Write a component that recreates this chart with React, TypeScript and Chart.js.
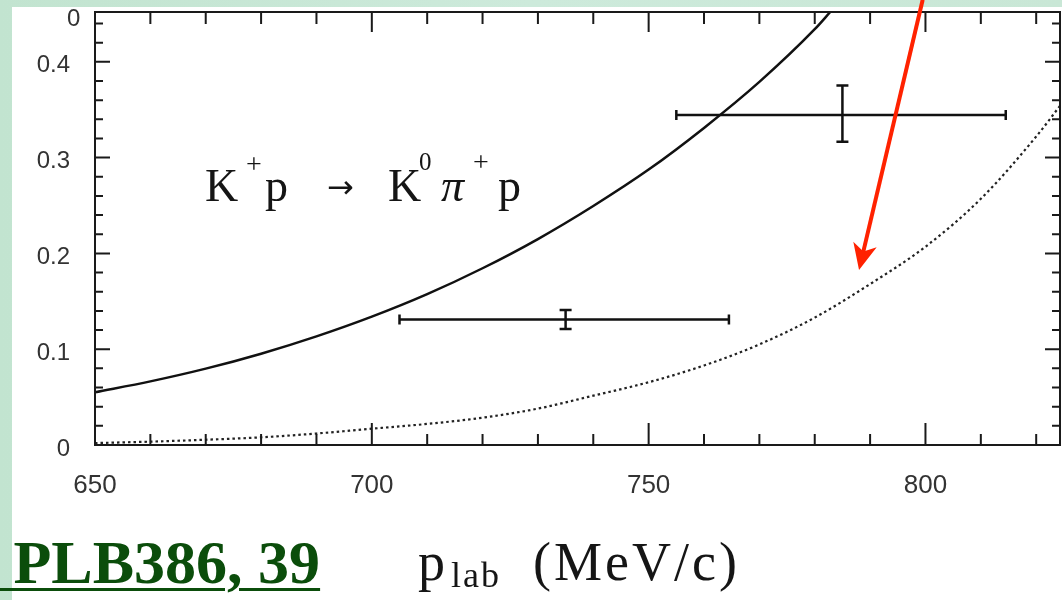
import React, { useEffect, useRef } from "react";
import { Chart, registerables } from "chart.js";

Chart.register(...registerables);

// ---- axis extents ----
const X_MIN = 650;
const X_MAX = 824.3;
const Y_MIN = 0;
const Y_MAX = 0.452;

// ---- tick values ----
const xLabelTicks = [650, 700, 750, 800];
const yLabelTicks = [0, 0.1, 0.2, 0.3, 0.4];
const xMinorTicks = [650, 660, 670, 680, 690, 700, 710, 720, 730, 740, 750, 760, 770, 780, 790, 800, 810, 820];
const yMinorTicks = [0, 0.02, 0.04, 0.06, 0.08, 0.1, 0.12, 0.14, 0.16, 0.18, 0.2, 0.22, 0.24, 0.26, 0.28, 0.3, 0.32, 0.34, 0.36, 0.38, 0.4, 0.42, 0.44];

// ---- solid curve ----
const solidX = [650, 660, 670, 680, 690, 700, 710, 720, 730, 740, 750, 760, 770, 780, 782.8];
const solidY = [0.055, 0.0664, 0.0797, 0.0953, 0.1134, 0.134, 0.1575, 0.1845, 0.215, 0.2495, 0.2875, 0.331, 0.379, 0.434, 0.452];

// ---- dotted curve ----
const dotX = [650, 660, 670, 680, 690, 700, 710, 720, 730, 740, 750, 760, 770, 780, 790, 800, 810, 820, 824.3];
const dotY = [0.002, 0.0035, 0.0055, 0.008, 0.012, 0.017, 0.022, 0.0285, 0.038, 0.0515, 0.0655, 0.083, 0.105, 0.133, 0.168, 0.207, 0.257, 0.322, 0.354];

// ---- data points with error bars ----
const errX = [735, 785];
const errY = [0.131, 0.3445];
const errXLo = [705, 755];
const errXHi = [764.5, 814.5];
const errYLo = [0.121, 0.3166];
const errYHi = [0.141, 0.3753];

// ---- red annotation arrow (data units) ----
const arrowTail = [799.5, 0.4648];
const arrowTip = [788.0, 0.1828];

const decorPlugin = {
  id: "decor",
  afterDatasetsDraw(chart: any) {
    const { ctx, chartArea: a, scales } = chart;
    const x = scales.x;
    const y = scales.y;
    ctx.save();

    // error bars
    ctx.strokeStyle = "#111";
    ctx.lineWidth = 2.5;
    ctx.lineCap = "butt";
    for (let i = 0; i < errX.length; i++) {
      const cx = x.getPixelForValue(errX[i]);
      const cy = y.getPixelForValue(errY[i]);
      const xl = x.getPixelForValue(errXLo[i]);
      const xh = x.getPixelForValue(errXHi[i]);
      const yl = y.getPixelForValue(errYLo[i]);
      const yh = y.getPixelForValue(errYHi[i]);
      ctx.beginPath();
      ctx.moveTo(xl, cy);
      ctx.lineTo(xh, cy);
      ctx.moveTo(xl, cy - 5);
      ctx.lineTo(xl, cy + 5);
      ctx.moveTo(xh, cy - 5);
      ctx.lineTo(xh, cy + 5);
      ctx.moveTo(cx, yl);
      ctx.lineTo(cx, yh);
      ctx.moveTo(cx - 6, yl);
      ctx.lineTo(cx + 6, yl);
      ctx.moveTo(cx - 6, yh);
      ctx.lineTo(cx + 6, yh);
      ctx.stroke();
    }

    // frame
    ctx.strokeStyle = "#1a1a1a";
    ctx.lineWidth = 2;
    ctx.strokeRect(a.left, a.top, a.right - a.left, a.bottom - a.top);

    // x ticks (inward, bottom and top)
    ctx.lineWidth = 2;
    ctx.beginPath();
    for (const v of xMinorTicks) {
      const px = x.getPixelForValue(v);
      const major = xLabelTicks.includes(v);
      ctx.moveTo(px, a.bottom);
      ctx.lineTo(px, a.bottom - (major ? 22 : 11));
      ctx.moveTo(px, a.top);
      ctx.lineTo(px, a.top + (major ? 20 : 12));
    }
    // y ticks (inward, left and right)
    for (const v of yMinorTicks) {
      const py = y.getPixelForValue(v);
      const major = Math.abs(v * 10 - Math.round(v * 10)) < 1e-6;
      ctx.moveTo(a.left, py);
      ctx.lineTo(a.left + (major ? 15 : 8), py);
      ctx.moveTo(a.right, py);
      ctx.lineTo(a.right - (major ? 15 : 8), py);
    }
    ctx.stroke();

    // red arrow
    const ax0 = x.getPixelForValue(arrowTail[0]);
    const ay0 = y.getPixelForValue(arrowTail[1]);
    const ax1 = x.getPixelForValue(arrowTip[0]);
    const ay1 = y.getPixelForValue(arrowTip[1]);
    const dx = ax1 - ax0;
    const dy = ay1 - ay0;
    const len = Math.hypot(dx, dy);
    const ux = dx / len;
    const uy = dy / len;
    const headLen = 26;
    const headW = 12;
    const bx = ax1 - ux * headLen;
    const by = ay1 - uy * headLen;
    ctx.strokeStyle = "#ff2200";
    ctx.fillStyle = "#ff2200";
    ctx.lineWidth = 4;
    ctx.beginPath();
    ctx.moveTo(ax0, ay0);
    ctx.lineTo(bx + ux * 8, by + uy * 8);
    ctx.stroke();
    ctx.beginPath();
    ctx.moveTo(ax1, ay1);
    ctx.lineTo(bx - uy * headW, by + ux * headW);
    ctx.lineTo(bx + ux * 7, by + uy * 7);
    ctx.lineTo(bx + uy * headW, by - ux * headW);
    ctx.closePath();
    ctx.fill();

    ctx.restore();
  },
};

const SERIF = "'Liberation Serif', 'Times New Roman', serif";
const SANS = "'Liberation Sans', Arial, sans-serif";

function Txt(props: {
  x: number;
  base: number;
  size: number;
  family?: string;
  italic?: boolean;
  bold?: boolean;
  color?: string;
  style?: React.CSSProperties;
  children: React.ReactNode;
}) {
  const family = props.family || SERIF;
  const k = family === SANS ? 0.8465 : 0.8375;
  return (
    <span
      style={{
        position: "absolute",
        left: props.x,
        top: props.base - k * props.size,
        fontSize: props.size,
        lineHeight: 1,
        fontFamily: family,
        fontStyle: props.italic ? "italic" : "normal",
        fontWeight: props.bold ? "bold" : "normal",
        color: props.color || "#151515",
        whiteSpace: "pre",
        ...(props.style || {}),
      }}
    >
      {props.children}
    </span>
  );
}

export default function App() {
  const canvasRef = useRef<HTMLCanvasElement | null>(null);

  useEffect(() => {
    const canvas = canvasRef.current;
    if (!canvas) return;
    const chart = new Chart(canvas, {
      type: "line",
      data: {
        datasets: [
          {
            label: "solid",
            data: solidX.map((v, i) => ({ x: v, y: solidY[i] })),
            borderColor: "#111",
            borderWidth: 2.5,
            pointRadius: 0,
            fill: false,
            cubicInterpolationMode: "monotone",
            clip: 0,
          } as any,
          {
            label: "dotted",
            data: dotX.map((v, i) => ({ x: v, y: dotY[i] })),
            borderColor: "#222",
            borderWidth: 2.2,
            borderDash: [2.5, 3],
            pointRadius: 0,
            fill: false,
            cubicInterpolationMode: "monotone",
            clip: 0,
          } as any,
        ],
      },
      options: {
        responsive: false,
        maintainAspectRatio: false,
        animation: false,
        devicePixelRatio: 1,
        events: [],
        layout: { padding: { left: 0, top: 12, right: 2, bottom: 95 } },
        plugins: { legend: { display: false }, tooltip: { enabled: false } },
        scales: {
          x: {
            type: "linear",
            min: X_MIN,
            max: X_MAX,
            grid: { display: false },
            border: { display: false },
            afterBuildTicks: (s: any) => {
              s.ticks = xLabelTicks.map((v) => ({ value: v }));
            },
            afterFit: (s: any) => {
              s.height = 60;
              s.paddingLeft = 0;
              s.paddingRight = 0;
            },
            ticks: {
              autoSkip: false,
              maxRotation: 0,
              minRotation: 0,
              padding: 20,
              color: "#333",
              font: { family: SANS, size: 26, lineHeight: 1 },
              callback: (v: any) => String(v),
            },
          },
          y: {
            type: "linear",
            min: Y_MIN,
            max: Y_MAX,
            grid: { display: false },
            border: { display: false },
            afterBuildTicks: (s: any) => {
              s.ticks = yLabelTicks.map((v) => ({ value: v }));
            },
            afterFit: (s: any) => {
              s.width = 95;
              s.paddingTop = 0;
              s.paddingBottom = 0;
            },
            ticks: {
              autoSkip: false,
              padding: 17,
              labelOffset: 4,
              color: "#333",
              font: { family: SANS, size: 24, lineHeight: 1 },
              callback: (v: any) => String(v),
            },
          },
        },
      } as any,
      plugins: [decorPlugin],
    });
    return () => chart.destroy();
  }, []);

  return (
    <div
      style={{
        position: "absolute",
        left: 0,
        top: 0,
        width: 1062,
        height: 600,
        overflow: "hidden",
        background: "linear-gradient(90deg, #c2e4d0 0%, #cdeadb 50%, #c9e7d6 100%)",
      }}
    >
      <div style={{ position: "absolute", left: 12, top: 7, right: 0, bottom: 0, background: "#ffffff" }} />
      <canvas
        ref={canvasRef}
        width={1062}
        height={600}
        style={{ position: "absolute", left: 0, top: 0, width: 1062, height: 600, display: "block" }}
      />
      {/* top-left stray axis label */}
      <Txt x={67} base={26} size={24} family={SANS} color="#333">0</Txt>

      {/* reaction label */}
      <Txt x={205} base={202} size={46}>K</Txt>
      <Txt x={246} base={173} size={28}>+</Txt>
      <Txt x={265} base={202} size={46}>p</Txt>
      <Txt x={327} base={198} size={32} family="'DejaVu Sans', sans-serif">→</Txt>
      <Txt x={388} base={202} size={46}>K</Txt>
      <Txt x={419} base={170} size={25}>0</Txt>
      <Txt x={441} base={202} size={46} italic>π</Txt>
      <Txt x={473} base={171} size={28}>+</Txt>
      <Txt x={498} base={202} size={46}>p</Txt>

      {/* axis title */}
      <Txt x={418} base={580} size={54}>p</Txt>
      <Txt x={451} base={587} size={36} style={{ letterSpacing: 2 }}>lab</Txt>
      <Txt x={533} base={580} size={54} style={{ letterSpacing: 3 }}>(MeV/c)</Txt>

      {/* reference */}
      <Txt
        x={-2}
        base={583}
        size={62}
        bold
        color="#0b4d0b"
        style={{ textDecoration: "underline", textDecorationThickness: "3px", textUnderlineOffset: "5px" }}
      >
        {" PLB386, 39"}
      </Txt>
    </div>
  );
}
